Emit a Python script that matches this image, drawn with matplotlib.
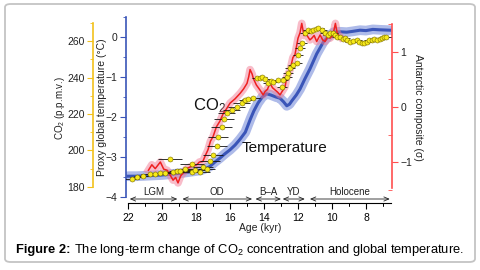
import matplotlib
matplotlib.use('Agg')
import matplotlib.pyplot as plt
import numpy as np
from matplotlib.patches import FancyBboxPatch
from matplotlib.ticker import MultipleLocator

plt.rcParams['font.family'] = ['Liberation Sans', 'DejaVu Sans']
plt.rcParams['mathtext.default'] = 'regular'

#%% data
# proxy global temperature (deg C)
temp_age = [22.0, 21.5, 21.0, 20.5, 20.0, 19.5, 19.0, 18.5, 18.0, 17.7, 17.4, 17.2,
            16.9, 16.6, 16.3, 16.0, 15.7, 15.4, 15.1, 14.8, 14.6, 14.35, 14.1, 13.84,
            13.6, 13.3, 13.06, 12.85, 12.66, 12.5, 12.37, 12.1, 11.88, 11.6, 11.3,
            10.9, 10.5, 10.2, 9.9, 9.5, 9.14, 8.8, 8.35, 8.0, 7.6, 7.2, 6.6]
temp_val = [-3.48, -3.48, -3.47, -3.46, -3.45, -3.43, -3.41, -3.38, -3.35, -3.33, -3.28, -3.24,
            -3.13, -3.03, -2.92, -2.82, -2.70, -2.55, -2.38, -2.05, -1.85, -1.65, -1.50, -1.42,
            -1.45, -1.50, -1.53, -1.62, -1.72, -1.68, -1.60, -1.45, -1.30, -1.05, -0.80,
            -0.42, -0.12, 0.02, 0.12, 0.13, 0.12, 0.14, 0.17, 0.16, 0.19, 0.18, 0.17]

# Antarctic composite (sigma)
ant_age = [20.8, 20.6, 20.4, 20.1, 19.9, 19.7, 19.5, 19.35, 19.2, 19.06, 18.9, 18.76,
           18.55, 18.35, 18.15, 17.96, 17.8, 17.6, 17.45, 17.3, 17.15, 17.0, 16.8, 16.6,
           16.4, 16.2, 16.0, 15.7, 15.4, 15.2, 15.0, 14.9, 14.82, 14.7, 14.63, 14.45,
           14.24, 14.05, 13.94, 13.8, 13.65, 13.5, 13.35, 13.2, 13.06, 12.9, 12.76,
           12.66, 12.47, 12.3, 12.18, 12.0, 11.88, 11.78, 11.65, 11.49, 11.3, 11.19,
           11.05, 10.9, 10.7, 10.55, 10.41, 10.25, 10.12, 9.95, 9.8, 9.7, 9.63, 9.5]
ant_val = [-1.15, -1.05, -1.12, -1.0, -1.13, -1.15, -1.25, -1.33, -1.28, -1.38, -1.25, -1.2,
           -1.12, -1.09, -1.07, -1.05, -1.0, -0.99, -0.88, -0.78, -0.62, -0.54, -0.36, -0.26,
           -0.12, -0.03, 0.07, 0.15, 0.25, 0.33, 0.43, 0.55, 0.68, 0.6, 0.52, 0.4,
           0.31, 0.22, 0.28, 0.32, 0.43, 0.35, 0.31, 0.27, 0.22, 0.3, 0.37,
           0.55, 0.67, 0.9, 0.95, 1.25, 1.35, 1.52, 1.3, 1.31, 1.22, 1.25,
           1.3, 1.19, 1.31, 1.22, 1.19, 1.28, 1.25, 1.3, 1.52, 1.35, 1.31, 1.27]

# CO2 (ppmv) with age uncertainty (kyr)
co2_age = [21.78, 21.49, 21.12, 20.71, 20.4, 20.12, 19.82, 19.53, 19.35, 19.1, 18.94, 18.65,
           18.25, 18.25, 18.06, 17.76, 17.59, 17.37, 17.18, 17.0, 16.78, 16.69, 16.5, 16.35,
           16.19, 15.9, 15.6, 15.31, 15.1, 14.92, 14.63, 14.43, 14.25, 14.14, 13.94, 13.75,
           13.6, 13.45, 13.16, 12.96, 12.86, 12.66, 12.57, 12.47, 12.28, 12.08, 11.98, 11.88,
           11.78, 11.59, 11.39, 11.25, 11.1, 10.95, 10.8, 10.61, 10.41, 10.25, 10.12, 9.95,
           9.82, 9.68, 9.53, 9.38, 9.24, 9.1, 8.94, 8.75, 8.55, 8.4, 8.25, 8.1,
           7.96, 7.8, 7.66, 7.5, 7.37, 7.2, 7.08, 6.95, 6.82]
co2_val = [184.2, 185.6, 186.0, 187.1, 187.0, 187.5, 187.5, 195.2, 188.4, 188.5, 188.9, 189.7,
           192.6, 188.4, 189.3, 188.4, 190.8, 189.7, 194.4, 197.5, 202.5, 207.6, 213.0, 217.0,
           220.4, 222.2, 224.0, 225.9, 227.5, 228.0, 228.6, 239.6, 240.0, 240.1, 239.0, 237.1,
           238.0, 237.7, 238.6, 234.6, 238.6, 240.4, 242.3, 245.0, 246.8, 247.8, 252.3, 256.0,
           258.7, 264.2, 266.0, 265.5, 266.0, 266.5, 267.0, 266.0, 264.2, 263.5, 264.2, 264.5,
           263.3, 262.0, 262.4, 261.0, 261.5, 260.5, 259.6, 260.0, 260.5, 259.5, 258.7, 259.0,
           259.6, 260.5, 260.5, 261.0, 260.5, 261.0, 261.5, 262.0, 262.4]
co2_err = [0.4, 0.4, 0.5, 0.5, 0.5, 0.5, 0.5, 0.7, 0.5, 0.5, 0.6, 0.6,
           0.7, 0.6, 0.6, 0.6, 0.6, 0.5, 0.6, 0.6, 0.6, 0.6, 0.6, 0.6,
           0.5, 0.5, 0.5, 0.5, 0.4, 0.4, 0.4, 0.3, 0.3, 0.3, 0.3, 0.3,
           0.3, 0.3, 0.3, 0.3, 0.3, 0.3, 0.3, 0.3, 0.3, 0.3, 0.3, 0.3,
           0.3, 0.3, 0.3, 0.3, 0.3, 0.3, 0.3, 0.3, 0.3, 0.3, 0.3, 0.3,
           0.3, 0.3, 0.3, 0.3, 0.3, 0.3, 0.3, 0.3, 0.3, 0.3, 0.3, 0.3,
           0.3, 0.3, 0.3, 0.3, 0.3, 0.3, 0.3, 0.3, 0.3]

# climate periods (name, older age, younger age)
periods = ['LGM', 'OD', 'B\u2013A', 'YD', 'Holocene']
period_start = [21.9, 18.8, 14.5, 12.9, 11.3]
period_end = [19.1, 14.7, 13.0, 11.6, 6.6]

#%% figure
W, H = 480, 270
fig = plt.figure(figsize=(4.8, 2.7), dpi=100)

# outer rounded frame
frame = FancyBboxPatch((5 / W, 8 / H), 470 / W, 258 / H,
                       boxstyle='round,pad=0,rounding_size=0.012',
                       transform=fig.transFigure, fc='none', ec='#c4c4c4', lw=1.3, zorder=-5)
fig.patches.append(frame)

rect = [126 / W, 67 / H, 266 / W, 186 / H]
xlim = (22.12, 6.47)

blue = '#3a55b8'
gold = '#f2c11c'
red = '#ff4f4f'

# temperature axis
ax = fig.add_axes(rect)
ax.patch.set_visible(False)
ax.set_xlim(*xlim)
ax.set_ylim(-4.15, 0.5)
ax.spines['top'].set_visible(False)
ax.spines['right'].set_visible(False)
ax.spines['left'].set_color(blue)
ax.spines['left'].set_linewidth(1.2)
ax.spines['left'].set_bounds(-4, 0.5)
ax.spines['bottom'].set_bounds(22, 6.5)
ax.yaxis.set_major_locator(MultipleLocator(1))
ax.yaxis.set_minor_locator(MultipleLocator(0.5))
ax.tick_params(axis='y', colors=blue, labelcolor='#222222', labelsize=7.5,
               length=4, pad=2)
ax.tick_params(axis='y', which='minor', colors=blue, length=2.5)
ax.xaxis.set_major_locator(MultipleLocator(2))
ax.xaxis.set_minor_locator(MultipleLocator(1))
ax.tick_params(axis='x', labelsize=7.5, length=4, pad=3)
ax.tick_params(axis='x', which='minor', length=2)
ax.set_yticks([0, -1, -2, -3, -4])

ax.plot(temp_age, temp_val, color='#8c9ee0', lw=7, alpha=0.7, solid_capstyle='round', zorder=2)
ax.plot(temp_age, temp_val, color=blue, lw=2.2, zorder=3)

for name, a0, a1 in zip(periods, period_start, period_end):
    ax.annotate('', xy=(a0, -4.05), xytext=(a1, -4.05),
                arrowprops=dict(arrowstyle='<->,head_length=0.35,head_width=0.15',
                                lw=0.6, color='#222222', shrinkA=0, shrinkB=0))
    ax.text((a0 + a1) / 2, -3.87, name, ha='center', va='center', fontsize=7, color='#222222')

ax.text(18.2, -1.72, 'CO$_2$', fontsize=12, ha='left', va='center', color='#111111', zorder=10)
ax.text(15.3, -2.78, 'Temperature', fontsize=11, ha='left', va='center', color='#111111', zorder=10)

# Antarctic composite axis (right)
axr = fig.add_axes(rect, sharex=ax)
axr.patch.set_visible(False)
axr.set_ylim(-1.745, 1.636)
for s in ['top', 'left', 'bottom']:
    axr.spines[s].set_visible(False)
axr.spines['right'].set_color(red)
axr.spines['right'].set_linewidth(1.2)
axr.spines['right'].set_bounds(-1.47, 1.5)
axr.yaxis.tick_right()
axr.yaxis.set_label_position('right')
axr.set_yticks([-1, 0, 1])
axr.yaxis.set_minor_locator(MultipleLocator(0.5))
axr.tick_params(axis='y', colors=red, labelcolor='#222222', labelsize=7.5, length=4, pad=2)
axr.tick_params(axis='y', which='minor', direction='in', colors=red, length=3)
axr.tick_params(axis='x', bottom=False, labelbottom=False)
axr.plot(ant_age, ant_val, color='#f27a94', lw=5.5, alpha=0.5, zorder=2)
axr.plot(ant_age, ant_val, color='#ee2020', lw=1.1, zorder=3)

# CO2 axis (left, offset)
axc = fig.add_axes(rect, sharex=ax)
axc.patch.set_visible(False)
axc.set_ylim(171.2, 273.2)
for s in ['top', 'right', 'bottom']:
    axc.spines[s].set_visible(False)
axc.spines['left'].set_position(('outward', 33 * 72 / 100))
axc.spines['left'].set_color(gold)
axc.spines['left'].set_linewidth(1.2)
axc.spines['left'].set_bounds(180, 270)
axc.set_yticks([180, 200, 220, 240, 260])
axc.yaxis.set_minor_locator(MultipleLocator(10))
axc.tick_params(axis='y', colors=gold, labelcolor='#222222', labelsize=7.5, length=4, pad=2)
axc.tick_params(axis='y', which='minor', colors=gold, length=2.5)
axc.tick_params(axis='x', bottom=False, labelbottom=False)
axc.errorbar(co2_age, co2_val, xerr=co2_err, fmt='o', ms=3.6, mfc='#f7ea1a', mec='#7a6a00',
             mew=0.4, ecolor='#111111', elinewidth=0.6, capsize=0, zorder=4)

# axis titles
fig.text(60 / W, 1 - 108 / H, 'CO$_2$ (p.p.m.v.)', rotation=90, ha='center', va='center',
         fontsize=7, color='#222222')
fig.text(102 / W, 1 - 107 / H, 'Proxy global temperature (\u00b0C)', rotation=90,
         ha='center', va='center', fontsize=7.5, color='#222222')
fig.text(418 / W, 1 - 107 / H, 'Antarctic composite (\u03c3)', rotation=270,
         ha='center', va='center', fontsize=7.5, color='#222222')
fig.text(260 / W, 1 - 228 / H, 'Age (kyr)', ha='center', va='center', fontsize=7.5,
         color='#222222')

# caption
cy = 1 - 250 / H
t1 = fig.text(16 / W, cy, 'Figure 2:', weight='bold', fontsize=9.3, ha='left', va='center')
fig.canvas.draw()
bb = t1.get_window_extent(renderer=fig.canvas.get_renderer())
fig.text(bb.x1 / W + 3 / W, cy, 'The long-term change of CO$_2$ concentration and global temperature.',
         fontsize=9.3, ha='left', va='center')

fig.savefig('out.png', dpi=100)
